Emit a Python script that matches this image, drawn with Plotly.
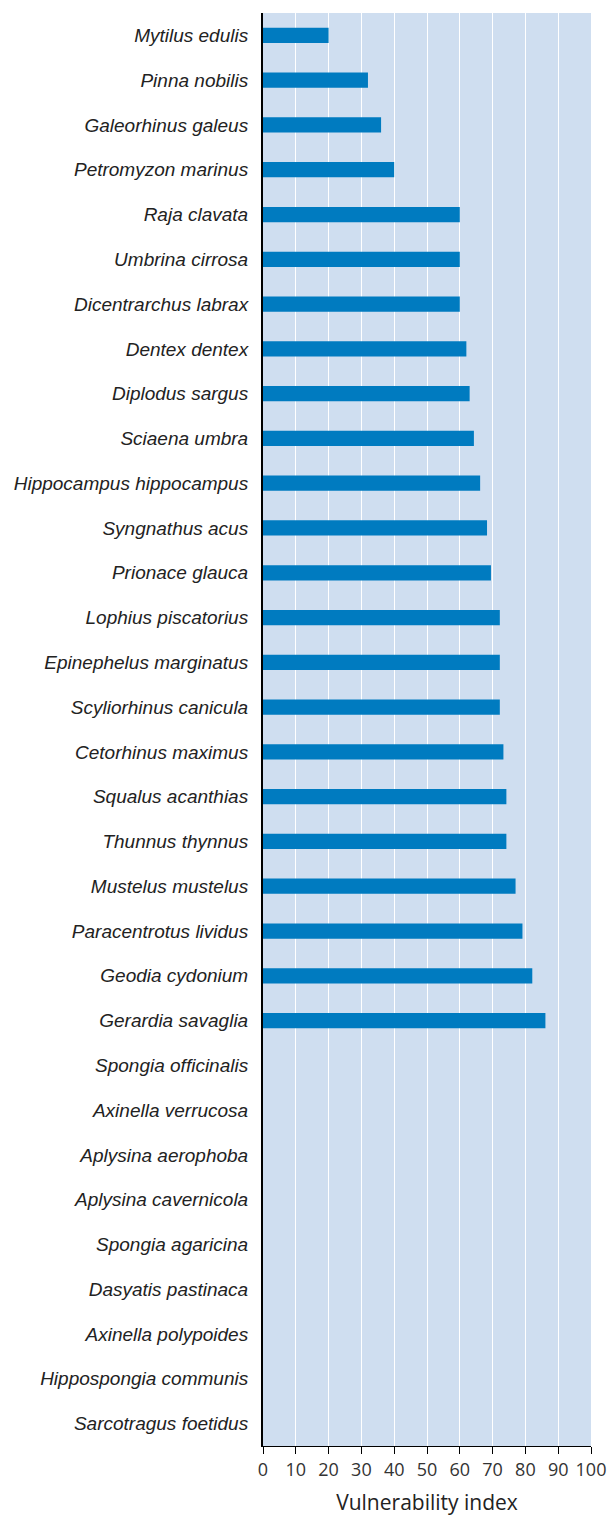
import plotly.graph_objects as go

species = [
    "Mytilus edulis", "Pinna nobilis", "Galeorhinus galeus", "Petromyzon marinus",
    "Raja clavata", "Umbrina cirrosa", "Dicentrarchus labrax", "Dentex dentex",
    "Diplodus sargus", "Sciaena umbra", "Hippocampus hippocampus", "Syngnathus acus",
    "Prionace glauca", "Lophius piscatorius", "Epinephelus marginatus",
    "Scyliorhinus canicula", "Cetorhinus maximus", "Squalus acanthias",
    "Thunnus thynnus", "Mustelus mustelus", "Paracentrotus lividus",
    "Geodia cydonium", "Gerardia savaglia", "Spongia officinalis",
    "Axinella verrucosa", "Aplysina aerophoba", "Aplysina cavernicola",
    "Spongia agaricina", "Dasyatis pastinaca", "Axinella polypoides",
    "Hippospongia communis", "Sarcotragus foetidus",
]
vulnerability = [
    20, 32, 36, 40, 60, 60, 60, 62, 63, 64.3, 66.2, 68.3, 69.5, 72.2, 72.2,
    72.2, 73.3, 74.2, 74.2, 77, 79.1, 82.1, 86.1,
    None, None, None, None, None, None, None, None, None,
]
x_ticks = list(range(0, 101, 10))

fig = go.Figure(go.Bar(
    y=species, x=vulnerability, orientation="h",
    marker=dict(color="#007bc0", line=dict(width=0)),
    width=0.34,
))

fig.update_layout(
    width=609, height=1518,
    margin=dict(l=263, r=18, t=13, b=72),
    paper_bgcolor="white",
    plot_bgcolor="#cfdef0",
    showlegend=False,
    font=dict(family="Liberation Sans", color="#222222"),
)
fig.update_xaxes(
    range=[0, 100], tickvals=x_ticks, ticktext=[str(v) for v in x_ticks],
    showgrid=True, gridcolor="white", gridwidth=1.2,
    zeroline=False,
    showline=True, linecolor="black", linewidth=1,
    ticks="outside", ticklen=7, tickcolor="black",
    tickfont=dict(size=18, family="Open Sans", color="#333333"),
    title=dict(text="Vulnerability index", font=dict(size=21, family="Open Sans", color="#222222"), standoff=15),
    automargin=False,
)
fig.update_yaxes(
    autorange="reversed", type="category",
    showgrid=False, zeroline=False,
    showline=True, linecolor="black", linewidth=2,
    ticks="", ticklabelstandoff=9,
    tickfont=dict(size=19, family="Liberation Sans", color="#222222", style="italic"),
    automargin=False,
)

fig.write_html(
    "out.html",
    config={"displayModeBar": False},
    post_script="document.body.style.margin='0';document.body.style.overflow='hidden';",
)
